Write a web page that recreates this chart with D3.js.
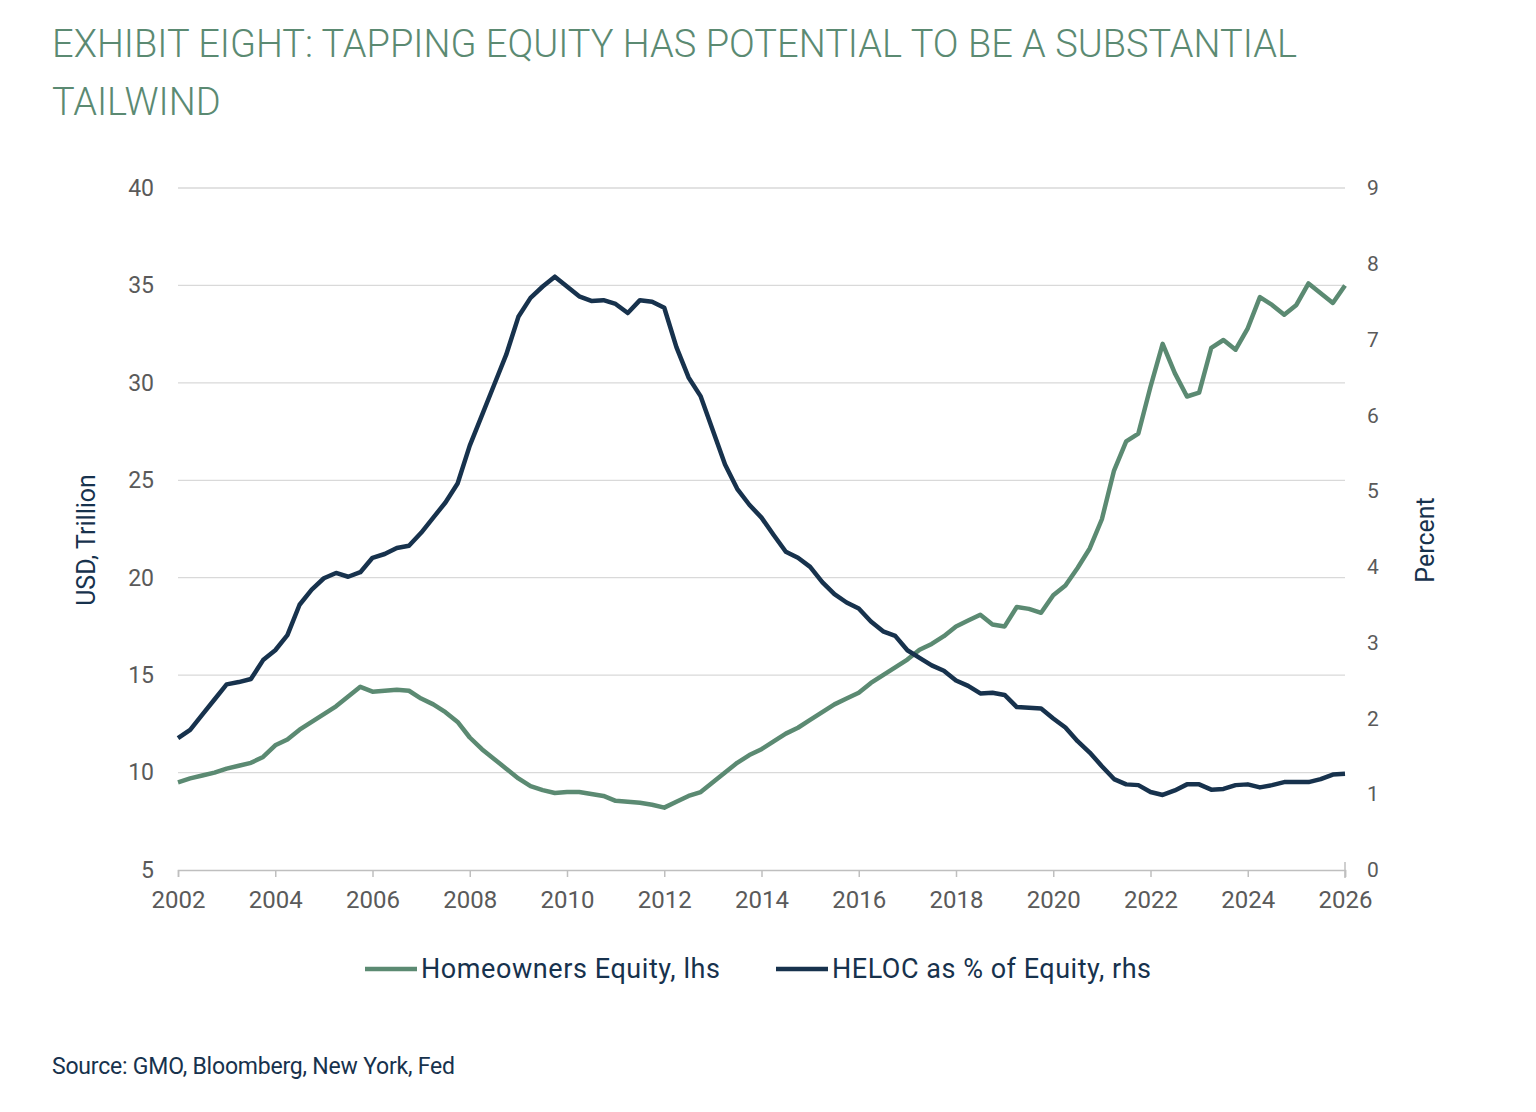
<!DOCTYPE html>
<html><head><meta charset="utf-8">
<script src="https://cdn.jsdelivr.net/npm/d3@7"></script>
<style>body{margin:0;background:#fff;font-family:Roboto,sans-serif}</style>
</head><body>
<svg id="c" width="1536" height="1112"></svg>
<script>
const startYear = 2002;
const equity = [9.5,9.7,9.85,10.0,10.2,10.35,10.5,10.8,11.4,11.7,12.2,12.6,13.0,13.4,13.9,14.4,14.15,14.2,14.25,14.2,13.8,13.5,13.1,12.6,11.8,11.2,10.7,10.2,9.7,9.3,9.1,8.95,9.0,9.0,8.9,8.8,8.55,8.5,8.45,8.35,8.2,8.5,8.8,9.0,9.5,10.0,10.5,10.9,11.2,11.6,12.0,12.3,12.7,13.1,13.5,13.8,14.1,14.6,15.0,15.4,15.8,16.3,16.6,17.0,17.5,17.8,18.1,17.6,17.5,18.5,18.4,18.2,19.1,19.6,20.5,21.5,23.0,25.5,27.0,27.4,29.8,32.0,30.5,29.3,29.5,31.8,32.2,31.7,32.8,34.4,34.0,33.5,34.0,35.1,34.6,34.1,35.0];
const heloc = [1.74,1.85,2.05,2.25,2.45,2.48,2.52,2.77,2.9,3.1,3.5,3.7,3.85,3.92,3.87,3.93,4.12,4.17,4.25,4.28,4.45,4.65,4.85,5.1,5.6,6.0,6.4,6.8,7.3,7.55,7.7,7.83,7.7,7.57,7.51,7.52,7.47,7.35,7.52,7.5,7.42,6.9,6.5,6.25,5.8,5.35,5.03,4.82,4.65,4.42,4.2,4.12,4.0,3.8,3.64,3.53,3.45,3.28,3.15,3.09,2.9,2.8,2.7,2.63,2.5,2.43,2.33,2.34,2.31,2.15,2.14,2.13,2.0,1.88,1.7,1.55,1.37,1.2,1.13,1.12,1.03,0.99,1.05,1.13,1.13,1.06,1.07,1.12,1.13,1.09,1.12,1.16,1.16,1.16,1.2,1.26,1.27];
const xTicks = [2002,2004,2006,2008,2010,2012,2014,2016,2018,2020,2022,2024,2026];
const leftTicks = [5,10,15,20,25,30,35,40];
const rightTicks = [0,1,2,3,4,5,6,7,8,9];
const GREEN="#5b8a72", NAVY="#17324d", GRAY="#5a5a5a";

const svg=d3.select("#c");
svg.append("text").attr("x",52).attr("y",57).attr("fill",GREEN).attr("font-size",38).attr("font-weight",300).attr("textLength",1245)
  .text("EXHIBIT EIGHT: TAPPING EQUITY HAS POTENTIAL TO BE A SUBSTANTIAL");
svg.append("text").attr("x",52).attr("y",115).attr("fill",GREEN).attr("font-size",38).attr("font-weight",300).text("TAILWIND");

const x=d3.scaleLinear().domain([2002,2026]).range([178,1345]);
const yL=d3.scaleLinear().domain([5,40]).range([870,188]);
const yR=d3.scaleLinear().domain([0,9]).range([870,188]);

const g=svg.append("g");
g.selectAll("line.grid").data(leftTicks.slice(1)).join("line").attr("x1",178).attr("x2",1345)
  .attr("y1",d=>yL(d)).attr("y2",d=>yL(d)).attr("stroke","#d9d9d9").attr("stroke-width",1.3);

const ax=g.append("g").attr("transform","translate(0,870)").call(d3.axisBottom(x).tickValues(xTicks).tickFormat(d3.format("d")).tickSizeOuter(0).tickSize(7));
ax.select(".domain").attr("stroke","#bfbfbf").attr("stroke-width",1.5);
ax.selectAll(".tick line").attr("stroke","#bfbfbf").attr("stroke-width",1.5);
ax.selectAll("text").attr("font-size",24).attr("fill",GRAY).attr("font-family","Roboto").attr("y",16).attr("dy","0.9em");

const al=g.append("g").attr("transform","translate(178,0)").call(d3.axisLeft(yL).tickValues(leftTicks).tickSize(0).tickPadding(24));
al.select(".domain").remove();
al.selectAll("text").attr("font-size",23).attr("fill",GRAY).attr("font-family","Roboto");
const ar=g.append("g").attr("transform","translate(1345,0)").call(d3.axisRight(yR).tickValues(rightTicks).tickSize(0).tickPadding(22));
ar.select(".domain").remove();
ar.selectAll("text").attr("font-size",21).attr("fill",GRAY).attr("font-family","Roboto");
g.append("line").attr("x1",1345).attr("x2",1345).attr("y1",862).attr("y2",878).attr("stroke","#bfbfbf").attr("stroke-width",1.5);

svg.append("text").attr("transform","translate(95,540) rotate(-90)").attr("text-anchor","middle").attr("fill",NAVY).attr("font-size",25).text("USD, Trillion");
svg.append("text").attr("transform","translate(1434,540) rotate(-90)").attr("text-anchor","middle").attr("fill",NAVY).attr("font-size",25).text("Percent");

const line=(ys)=>d3.line().x((d,i)=>x(startYear+i*0.25)).y(d=>ys(d)).curve(d3.curveLinear);
g.append("path").datum(equity).attr("d",line(yL)).attr("fill","none").attr("stroke",GREEN).attr("stroke-width",4.5).attr("stroke-linejoin","round");
g.append("path").datum(heloc).attr("d",line(yR)).attr("fill","none").attr("stroke",NAVY).attr("stroke-width",4.5).attr("stroke-linejoin","round");

const leg=[{t:"Homeowners Equity, lhs",c:GREEN,x:365,w:299},{t:"HELOC as % of Equity, rhs",c:NAVY,x:776,w:319}];
leg.forEach(l=>{
  svg.append("line").attr("x1",l.x).attr("x2",l.x+52).attr("y1",969).attr("y2",969).attr("stroke",l.c).attr("stroke-width",4.5);
  svg.append("text").attr("x",l.x+56).attr("y",978).attr("fill",NAVY).attr("font-size",27).attr("textLength",l.w).text(l.t);
});
svg.append("text").attr("x",52).attr("y",1074).attr("fill",NAVY).attr("font-size",23).attr("textLength",403).text("Source: GMO, Bloomberg, New York, Fed");
</script>
</body></html>
